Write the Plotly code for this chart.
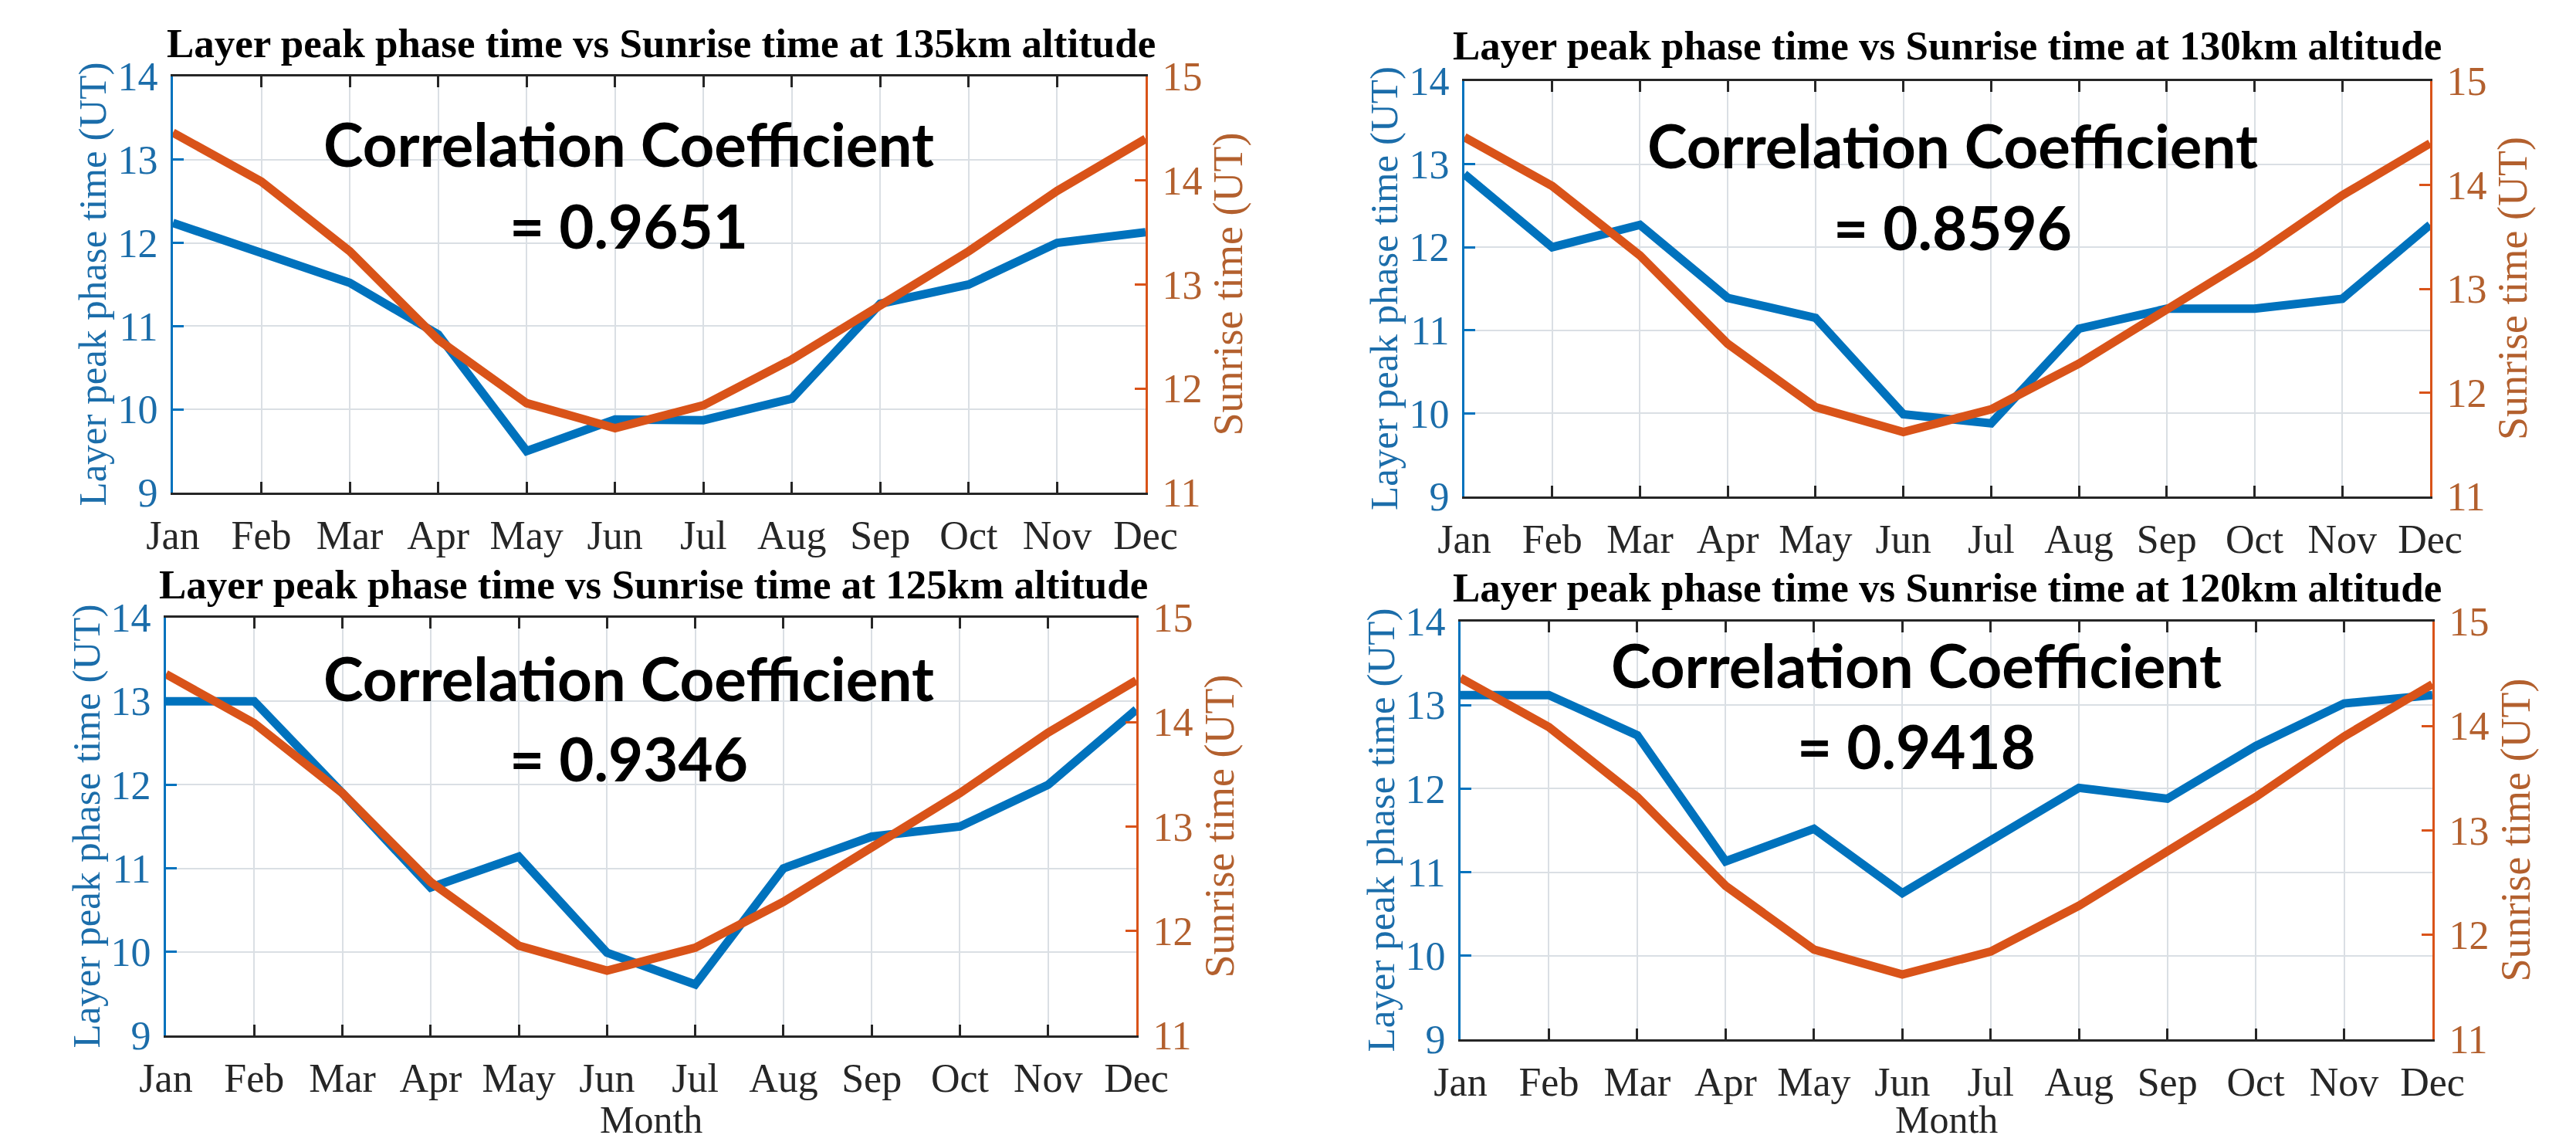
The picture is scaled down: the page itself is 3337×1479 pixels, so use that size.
import plotly.graph_objects as go

W, H = 3337, 1479

months = ["Jan", "Feb", "Mar", "Apr", "May", "Jun", "Jul", "Aug", "Sep", "Oct", "Nov", "Dec"]

# Sunrise time (UT), right axis
sunrise_ut = [14.46, 13.99, 13.32, 12.47, 11.86, 11.62, 11.84, 12.28, 12.80, 13.32, 13.90, 14.40]

# Layer peak phase time (UT), left axis
peak_135 = [12.24, 11.88, 11.52, 10.90, 9.50, 9.88, 9.87, 10.13, 11.27, 11.50, 12.00, 12.13]
peak_130 = [12.88, 12.00, 12.27, 11.39, 11.15, 9.99, 9.88, 11.02, 11.26, 11.26, 11.38, 12.27]
peak_125 = [13.00, 13.00, 11.90, 10.77, 11.14, 9.99, 9.61, 11.00, 11.38, 11.50, 12.00, 12.90]
peak_120 = [13.12, 13.12, 12.64, 11.13, 11.52, 10.75, 11.38, 12.01, 11.88, 12.51, 13.02, 13.12]

altitudes = ["135", "130", "125", "120"]
corr_values = ["0.9651", "0.8596", "0.9346", "0.9418"]
peaks = [peak_135, peak_130, peak_125, peak_120]

left_ticks = [9, 10, 11, 12, 13, 14]
right_ticks = [11, 12, 13, 14, 15]

BLUE = "#0072BD"
ORANGE = "#D95319"
BLUE_TXT = "#1B6DAA"
ORANGE_TXT = "#B3602E"
GRID = "#DADFE4"
SERIF = "Liberation Serif"

# panel geometry in pixels: (x0, x1, ytop, ybottom)
panels_px = [(224, 1484, 99, 638), (1897, 3148, 105, 643),
             (215, 1472, 800, 1341), (1892, 3151, 805, 1346)]
# title centre (x, y) and correlation text line centres (x, y1, y2) in pixels
title_px = [(856, 56), (2522, 59), (846, 757), (2522, 761)]
corr_px = [(814, 186, 292), (2529, 188, 294), (814, 878, 982), (2482, 861, 966)]


def px(x):
    return x / W


def py(y):
    return 1 - y / H


fig = go.Figure()
layout = dict(width=W, height=H, autosize=False, margin=dict(l=0, r=0, t=0, b=0, pad=0, autoexpand=False),
              paper_bgcolor="white", plot_bgcolor="white", showlegend=False)
annotations = []

for i in range(4):
    x0, x1, yt, yb = panels_px[i]
    xa = f"x{i + 1}"
    yl = f"y{2 * i + 1}"
    yr = f"y{2 * i + 2}"
    xkey = "xaxis" if i == 0 else f"xaxis{i + 1}"
    ylkey = "yaxis" if i == 0 else f"yaxis{2 * i + 1}"
    yrkey = f"yaxis{2 * i + 2}"

    fig.add_trace(go.Scatter(x=months, y=peaks[i], mode="lines", xaxis=xa, yaxis=yl,
                             line=dict(color=BLUE, width=11)))
    fig.add_trace(go.Scatter(x=months, y=sunrise_ut, mode="lines", xaxis=xa, yaxis=yr,
                             line=dict(color=ORANGE, width=11)))

    layout[xkey] = dict(domain=[px(x0), px(x1)], anchor=yl, type="category",
                        range=[0, 11], categoryorder="array", categoryarray=months,
                        automargin=False,
                        showgrid=True, gridcolor=GRID, gridwidth=2,
                        showline=True, linecolor="#262626", linewidth=3, mirror="ticks",
                        ticks="inside", ticklen=14, tickwidth=3, tickcolor="#262626",
                        ticklabelstandoff=8,
                        tickfont=dict(family=SERIF, size=52, color="#262626"),
                        zeroline=False)
    layout[ylkey] = dict(domain=[py(yb), py(yt)], anchor=xa, range=[9, 14],
                         automargin=False,
                         tickvals=left_ticks, showgrid=True, gridcolor=GRID, gridwidth=2,
                         showline=True, linecolor=BLUE, linewidth=3,
                         ticks="inside", ticklen=14, tickwidth=3, tickcolor=BLUE,
                         ticklabelstandoff=6,
                         tickfont=dict(family=SERIF, size=52, color=BLUE_TXT),
                         zeroline=False)
    layout[yrkey] = dict(overlaying=yl, anchor=xa, side="right", range=[11, 15],
                         automargin=False,
                         tickvals=right_ticks, showgrid=False,
                         showline=True, linecolor=ORANGE, linewidth=3,
                         ticks="inside", ticklen=14, tickwidth=3, tickcolor=ORANGE,
                         ticklabelstandoff=8,
                         tickfont=dict(family=SERIF, size=52, color=ORANGE_TXT),
                         zeroline=False)

    # panel title
    tx, ty = title_px[i]
    annotations.append(dict(xref="paper", yref="paper", x=px(tx), y=py(ty),
                            xanchor="center", yanchor="middle", showarrow=False,
                            text=f"<b>Layer peak phase time vs Sunrise time at {altitudes[i]}km altitude</b>",
                            font=dict(family=SERIF, size=53, color="black")))
    # axis titles
    ymid = py((yt + yb) / 2)
    annotations.append(dict(xref="paper", yref="paper", x=px(x0 - 104), y=ymid,
                            xanchor="center", yanchor="middle", showarrow=False,
                            textangle=-90, text="Layer peak phase time (UT)",
                            font=dict(family=SERIF, size=51, color=BLUE_TXT)))
    annotations.append(dict(xref="paper", yref="paper", x=px(x1 + 107), y=ymid,
                            xanchor="center", yanchor="middle", showarrow=False,
                            textangle=-90, text="Sunrise time (UT)",
                            font=dict(family=SERIF, size=54, color=ORANGE_TXT)))
    if i >= 2:
        annotations.append(dict(xref="paper", yref="paper", x=px((x0 + x1) / 2), y=0,
                                xanchor="center", yanchor="bottom", showarrow=False,
                                borderpad=0, text="Month",
                                font=dict(family=SERIF, size=50, color="#262626")))
    # correlation coefficient
    cx, cy1, cy2 = corr_px[i]
    annotations.append(dict(xref="paper", yref="paper", x=px(cx), y=py(cy1),
                            xanchor="center", yanchor="middle", showarrow=False,
                            text="<b>Correlation Coefficient</b>",
                            font=dict(family="Lato", size=78, color="black")))
    annotations.append(dict(xref="paper", yref="paper", x=px(cx), y=py(cy2),
                            xanchor="center", yanchor="middle", showarrow=False,
                            text=f"<b>= {corr_values[i]}</b>",
                            font=dict(family="Lato", size=78, color="black")))

layout["annotations"] = annotations
fig.update_layout(**layout)
fig.write_html("out.html")
